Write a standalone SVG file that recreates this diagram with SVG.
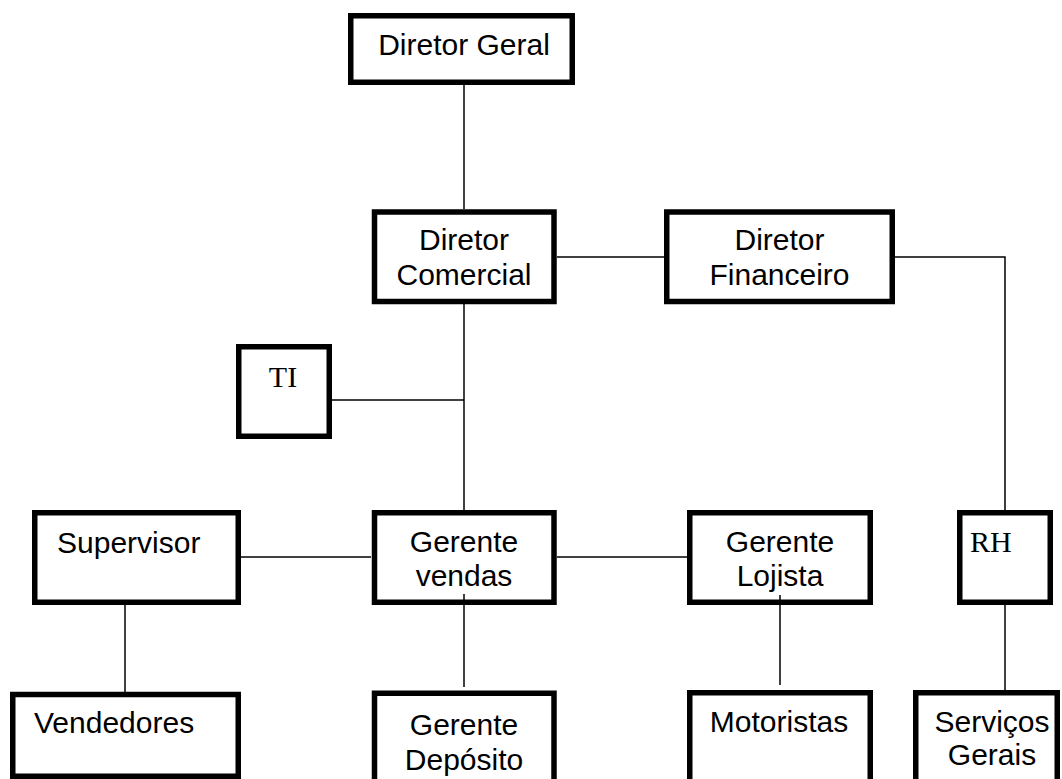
<svg xmlns="http://www.w3.org/2000/svg" width="1062" height="779" viewBox="0 0 1062 779">
<style>
.box{fill:#fff;stroke:#000;stroke-width:5.5}
.c{fill:none;stroke:#000;stroke-width:1.5}
.t{font-family:"Liberation Sans",Arial,sans-serif;font-size:30px;fill:#000}
.s{font-family:"Liberation Serif","Times New Roman",serif;font-size:30px;fill:#000}
.m{text-anchor:middle}
</style>
<rect width="1062" height="779" fill="#fff"/>
<g id="connectors">
<line class="c" x1="464" y1="85" x2="464" y2="209"/>
<line class="c" x1="557" y1="257" x2="664" y2="257"/>
<polyline class="c" points="895,257 1005,257 1005,510"/>
<line class="c" x1="464" y1="304" x2="464" y2="510"/>
<line class="c" x1="332" y1="400" x2="464" y2="400"/>
<line class="c" x1="241" y1="557" x2="371" y2="557"/>
<line class="c" x1="557" y1="557" x2="687" y2="557"/>
<line class="c" x1="125" y1="605" x2="125" y2="692"/>
<line class="c" x1="1005" y1="605" x2="1005" y2="690"/>
</g>
<g id="diretor-geral"><rect class="box" x="350.75" y="15.75" width="221.5" height="66.5"/><text class="t m" x="464" y="55">Diretor Geral</text></g>
<g id="diretor-comercial"><rect class="box" x="374.5" y="212" width="179.5" height="89.5"/><text class="t m" x="464" y="250">Diretor</text><text class="t m" x="464" y="285">Comercial</text></g>
<g id="diretor-financeiro"><rect class="box" x="666.75" y="212" width="225.5" height="89.5"/><text class="t m" x="779.5" y="250">Diretor</text><text class="t m" x="779.5" y="285">Financeiro</text></g>
<g id="ti"><rect class="box" x="238.75" y="346.75" width="90.5" height="89.5"/><text class="s m" x="283" y="387">TI</text></g>
<g id="supervisor"><rect class="box" x="34.75" y="512.75" width="203.5" height="89.5"/><text class="t" x="57" y="553">Supervisor</text></g>
<g id="gerente-vendas"><rect class="box" x="374.5" y="512.75" width="179.5" height="89.5"/><text class="t m" x="464" y="552">Gerente</text><text class="t m" x="464" y="586">vendas</text></g>
<g id="gerente-lojista"><rect class="box" x="689.75" y="512.75" width="180.5" height="89.5"/><text class="t m" x="780" y="552">Gerente</text><text class="t m" x="780" y="586">Lojista</text></g>
<g id="rh"><rect class="box" x="959.75" y="512.75" width="90.5" height="89.5"/><text class="s" x="970" y="552">RH</text></g>
<g id="connectors-inner">
<line class="c" x1="464" y1="594" x2="464" y2="687"/>
<line class="c" x1="780" y1="595" x2="780" y2="685"/>
</g>
<g id="vendedores"><rect class="box" x="12.75" y="694.5" width="225.5" height="81.75"/><text class="t" x="34" y="733">Vendedores</text></g>
<g id="gerente-deposito"><rect class="box" x="374.5" y="693.25" width="179.5" height="120"/><text class="t m" x="464" y="735">Gerente</text><text class="t m" x="464" y="770">Depósito</text></g>
<g id="motoristas"><rect class="box" x="689.75" y="692.75" width="180.5" height="120"/><text class="t m" x="779" y="732">Motoristas</text></g>
<g id="servicos-gerais"><rect class="box" x="915.75" y="692.75" width="141.5" height="120"/><text class="t m" x="992" y="732">Serviços</text><text class="t m" x="992" y="765">Gerais</text></g>
</svg>
